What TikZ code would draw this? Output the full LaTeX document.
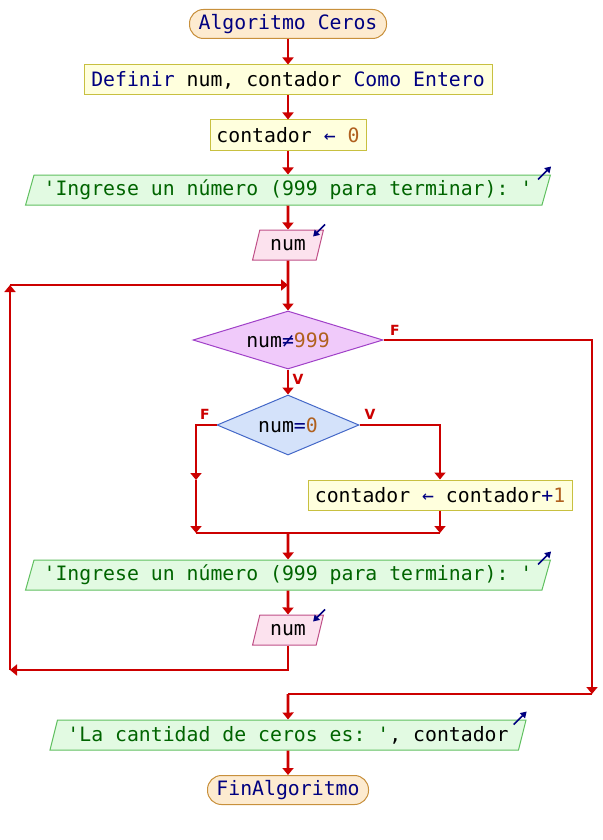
\documentclass[tikz,border=0pt]{standalone}
\usepackage{fontspec}
\setmainfont{DejaVu Sans}
\setsansfont{DejaVu Sans}
\setmonofont{DejaVu Sans Mono}
\usetikzlibrary{shapes.geometric,arrows.meta,calc}

\definecolor{flowred}{HTML}{CC0000}
\definecolor{kwblue}{HTML}{000080}
\definecolor{numbrown}{HTML}{B0601E}
\definecolor{strgreen}{HTML}{006400}
\definecolor{termfill}{HTML}{FDEBD0}
\definecolor{termdraw}{HTML}{C8903C}
\definecolor{procfill}{HTML}{FFFFDD}
\definecolor{procdraw}{HTML}{C8C040}
\definecolor{outfill}{HTML}{E2FAE2}
\definecolor{outdraw}{HTML}{60C060}
\definecolor{infill}{HTML}{FCE2EE}
\definecolor{indraw}{HTML}{C05088}
\definecolor{loopfill}{HTML}{F0CAFA}
\definecolor{loopdraw}{HTML}{A040C8}
\definecolor{iffill}{HTML}{D4E2FA}
\definecolor{ifdraw}{HTML}{4468C8}

\newcommand\pkw[1]{\textcolor{kwblue}{#1}}
\newcommand\pnum[1]{\textcolor{numbrown}{#1}}
\newcommand\pstr[1]{\textcolor{strgreen}{#1}}

\tikzset{
  base/.style={font=\fontsize{19.8}{20}\selectfont\ttfamily, inner sep=0pt, line width=1pt},
  term/.style={base, rectangle, rounded corners=14pt, fill=termfill, draw=termdraw, minimum height=29},
  proc/.style={base, rectangle, fill=procfill, draw=procdraw, minimum height=30},
  para/.style={base, trapezium, trapezium left angle=68, trapezium right angle=112,
    trapezium stretches=true, minimum height=30},
  outp/.style={para, fill=outfill, draw=outdraw},
  inp/.style={para, fill=infill, draw=indraw},
  loopd/.style={base, diamond, aspect=3.3, fill=loopfill, draw=loopdraw},
  ifd/.style={base, diamond, aspect=2.4, fill=iffill, draw=ifdraw},
  lbl/.style={font=\fontsize{14}{14}\selectfont\sffamily\bfseries, text=flowred, inner sep=0pt},
  line/.style={draw=flowred, line width=2.7pt},
  flow/.style={line, -{Triangle[length=7pt,width=11pt]}},
  icon/.style={draw=kwblue, line width=1.6pt, -{Triangle[length=6pt,width=7pt]}},
}

\begin{document}
\begin{tikzpicture}[x=1pt,y=-1pt]
\useasboundingbox[fill=white] (0,0) rectangle (602,840);

% blocks
\node[term, minimum width=197] (start) at (288,24) {\pkw{Algoritmo Ceros}};
\node[proc, minimum width=408] (def) at (288,80) {\pkw{Definir} num, contador \pkw{Como Entero}};
\node[proc, minimum width=156] (init) at (288,135) {contador \pkw{←} \pnum{0}};
\node[outp, minimum width=528] (out1) at (288,190) {\pstr{'Ingrese un número (999 para terminar): '}};
\node[inp, minimum width=71] (in1) at (288,245) {num};
\node[loopd, minimum width=190, minimum height=58] (cond) at (288,340) {num\pkw{≠}\pnum{999}};
\node[ifd, minimum width=142, minimum height=60] (test) at (288,425) {num\pkw{=}\pnum{0}};
\node[proc, minimum width=264] (inc) at (440,495) {contador \pkw{←} contador\pkw{+}\pnum{1}};
\node[outp, minimum width=528] (out2) at (288,575) {\pstr{'Ingrese un número (999 para terminar): '}};
\node[inp, minimum width=71] (in2) at (288,630) {num};
\node[outp, minimum width=479] (out3) at (288,735) {\pstr{'La cantidad de ceros es: '}, contador};
\node[term, minimum width=161] (stop) at (288,790) {\pkw{FinAlgoritmo}};

% output / input markers
\foreach \n in {out1,out2,out3}
  \draw[icon] ($(\n.top right corner)+(-13,5)$) -- ++(13,-13);
\foreach \n in {in1,in2}
  \draw[icon] ($(\n.top right corner)+(1,-5)$) -- ++(-12,12);

% routing points
\coordinate (join) at (288,285);
\coordinate (lt) at (10,285);
\coordinate (lb) at (10,670);
\coordinate (fl) at (196,480);
\coordinate (fm) at (196,533);
\coordinate (rm) at (440,533);
\coordinate (mm) at (288,533);
\coordinate (rb) at (592,694);
\coordinate (ex) at (288,694);

% straight flow
\draw[flow] (start) -- (def);
\draw[flow] (def) -- (init);
\draw[flow] (init) -- (out1);
\draw[flow] (out1) -- (in1);
\draw[flow] (in1.south) -- (cond.north);
\draw[flow] (cond.south) -- (test.north);

% if branches
\draw[flow] (test.west) -| (fl);
\draw[flow] (fl) -- (fm);
\draw[flow] (test.east) -| (inc.north);
\draw[flow] (inc.south) -- (rm);
\draw[line] (fm) -- (rm);
\draw[flow] (mm) -- (out2.north);
\draw[flow] (out2.south) -- (in2.north);

% loop back
\draw[flow] (in2.south) |- (lb);
\draw[flow] (lb) -- (lt);
\draw[flow] (lt) -- (join);

% loop exit
\draw[flow] (cond.east) -| (rb);
\draw[line] (rb) -- (ex);
\draw[flow] (ex) -- (out3.north);
\draw[flow] (out3.south) -- (stop.north);

% branch labels
\node[lbl] (lf1) at (395,330) {F};
\node[lbl] (lv1) at (298,379) {V};
\node[lbl] (lf2) at (205,414) {F};
\node[lbl] (lv2) at (370,414) {V};
\end{tikzpicture}
\end{document}
